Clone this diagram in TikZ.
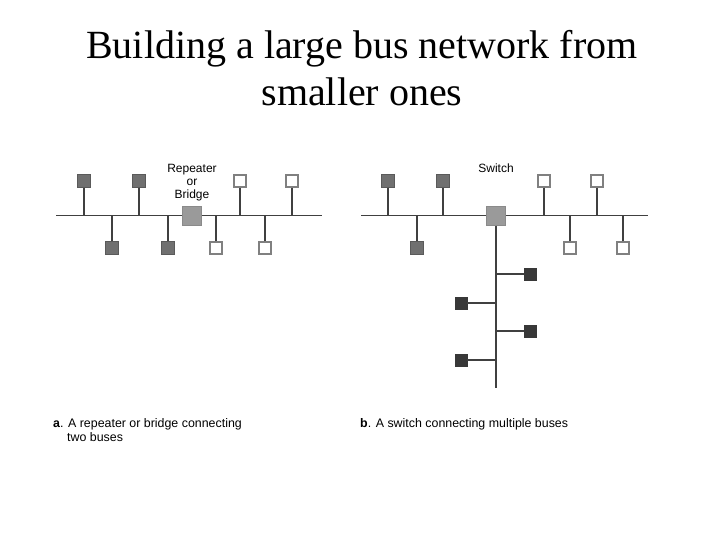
\documentclass[tikz,border=0pt]{standalone}
\usepackage{fontspec}
\setmainfont{Liberation Serif}
\setsansfont{Liberation Sans}
\definecolor{busc}{HTML}{404040}
\definecolor{dkf}{HTML}{707070}
\definecolor{dkb}{HTML}{5A5A5A}
\definecolor{opb}{HTML}{808080}
\definecolor{hubf}{HTML}{9A9A9A}
\definecolor{hubb}{HTML}{8A8A8A}
\definecolor{blk}{HTML}{383838}
\begin{document}
\begin{tikzpicture}[x=1pt,y=-1pt,
  bus/.style={draw=busc, line width=1.6pt},
  stem/.style={draw=busc, line width=1.4pt},
  trunk/.style={draw=busc, line width=2.4pt},
  dk/.style={draw=dkb, fill=dkf, minimum size=12.5pt, inner sep=0pt, line width=0.6pt},
  op/.style={draw=opb, fill=white, minimum size=12pt, inner sep=0pt, line width=1.3pt},
  hub/.style={draw=hubb, fill=hubf, minimum size=18.5pt, inner sep=0pt, line width=0.6pt},
  bl/.style={draw=blk, fill=blk, minimum size=12.5pt, inner sep=0pt},
  lbl/.style={font=\sffamily\fontsize{12}{13}\selectfont, align=center, inner sep=0pt},
  captxt/.style={font=\sffamily\fontsize{12.4}{14}\selectfont, align=left, anchor=base west, inner sep=0pt},
  ttl/.style={font=\fontsize{40}{47}\selectfont, align=center, inner sep=0pt}
]
\useasboundingbox (0,0) rectangle (720,540);
% title
\node[ttl] (title) at (362,68) {Building a large bus network from\\smaller ones};

% ---------- panel a ----------
\coordinate (aL) at (56,215.5);
\coordinate (aR) at (322,215.5);
\draw[bus] (aL) -- (aR);
\node[hub] (rep) at (192,216) {};
\node[lbl] (replbl) at (192,183) {Repeater\\or\\Bridge};
% top stations
\node[dk] (a1) at (84,181) {};
\node[dk] (a2) at (139,181) {};
\node[op] (a3) at (240,181) {};
\node[op] (a4) at (292,181) {};
% bottom stations
\node[dk] (a5) at (112,248) {};
\node[dk] (a6) at (168,248) {};
\node[op] (a7) at (216,248) {};
\node[op] (a8) at (265,248) {};
\foreach \n in {a1,a2,a3,a4,a5,a6,a7,a8}{
  \coordinate (\n t) at (\n |- aL);
  \draw[stem] (\n) -- (\n t);
}

% ---------- panel b ----------
\coordinate (bL) at (361,215.5);
\coordinate (bR) at (648,215.5);
\draw[bus] (bL) -- (bR);
\node[lbl] (swlbl) at (496,168) {Switch};
\node[dk] (b1) at (388,181) {};
\node[dk] (b2) at (443,181) {};
\node[op] (b3) at (544,181) {};
\node[op] (b4) at (597,181) {};
\node[dk] (b5) at (417,248) {};
\node[op] (b6) at (570,248) {};
\node[op] (b7) at (623,248) {};
\foreach \n in {b1,b2,b3,b4,b5,b6,b7}{
  \coordinate (\n t) at (\n |- bL);
  \draw[stem] (\n) -- (\n t);
}
\coordinate (bend) at (496,388);
\node[hub] (sw) at (496,216) {};
\draw[trunk] (sw) -- (bend);
\node[bl] (c1) at (530,274) {};
\node[bl] (c2) at (461,303) {};
\node[bl] (c3) at (530,331) {};
\node[bl] (c4) at (461,360) {};
\foreach \n in {c1,c2,c3,c4}{
  \coordinate (\n t) at (bend |- \n);
  \draw[stem] (\n) -- (\n t);
}

% captions
\node[captxt] (capa) at (53,441) {\textbf{a}. A repeater or bridge connecting\\\hspace*{14pt}two buses};
\node[captxt] (capb) at (360,427) {\textbf{b}. A switch connecting multiple buses};
\end{tikzpicture}
\end{document}
